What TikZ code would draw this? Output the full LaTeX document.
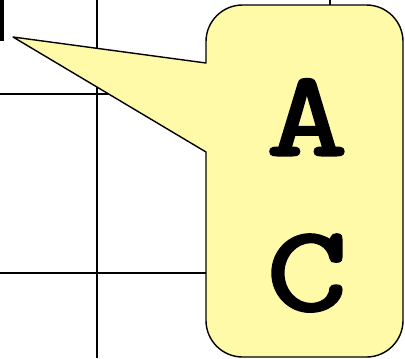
\documentclass[tikz,border=0pt]{standalone}
\usepackage{fontspec}
\newfontfamily\notefont{Latin Modern Mono}[FakeBold=2.5, FakeStretch=1.3]
\usepackage{tikz}
\usetikzlibrary{positioning, calc}
\definecolor{noteYellow}{HTML}{FFFAA8}

\begin{document}
\begin{tikzpicture}[x=0.025cm, y=-0.025cm,
    gridline/.style={line width=1.4pt, black},
    note/.style={fill=noteYellow, draw=black, line width=1pt, line join=round},
    letter/.style={font=\notefont\fontsize{86}{90}\selectfont, anchor=base, inner sep=0pt}
  ]
  \useasboundingbox (0,0) rectangle (405,358);
  % === Grid ===
  \draw[gridline] (97,0) -- (97,358);
  \draw[gridline] (330,0) -- (330,30);
  \draw[gridline] (0,94) -- (220,94);
  \draw[gridline] (0,273) -- (220,273);
  \fill[black] (0,0) rectangle (4,41);

  % === Callout ===
  \coordinate (tip) at (13,37);
  \draw[note] (206,63) [rounded corners=26pt] -- (206,5) -- (403,5) -- (403,357) -- (206,357)
    [sharp corners] -- (206,152) -- (tip) -- cycle;
  \node[letter] (la) at (307,155) {A};
  \node[letter] (lc) at (307,310) {C};
\end{tikzpicture}
\end{document}
